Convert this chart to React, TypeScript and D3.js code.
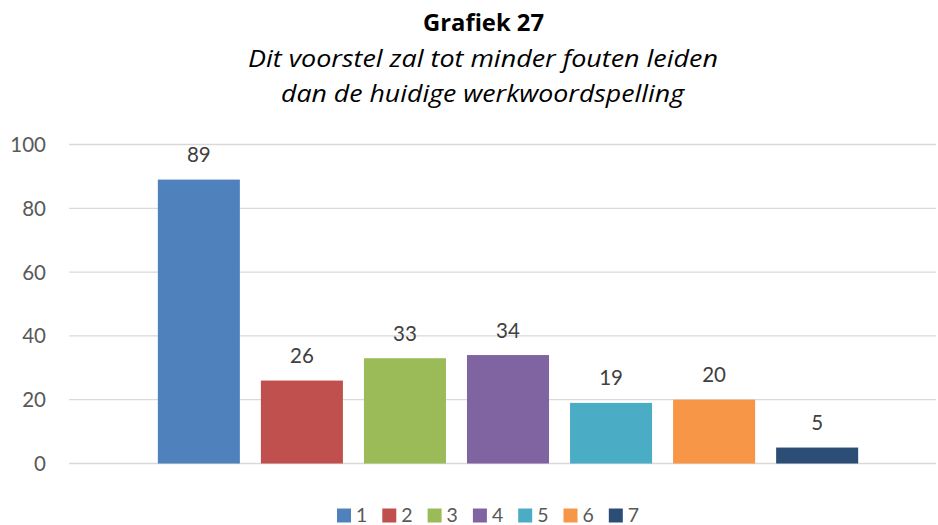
import React from "react";
import * as d3 from "d3";

const categories = ["Grafiek 27"];
const seriesNames = ["1", "2", "3", "4", "5", "6", "7"];
const seriesValues = [89, 26, 33, 34, 19, 20, 5];
const seriesColors = ["#4F81BD", "#C0504D", "#9BBB59", "#8064A2", "#4BACC6", "#F79646", "#2C4D75"];
const yTicks = [0, 20, 40, 60, 80, 100];
const titleText = "Grafiek 27";
const subtitleLines = ["Dit voorstel zal tot minder fouten leiden", "dan de huidige werkwoordspelling"];

const W = 938;
const H = 525;
const FONT = "Lato, 'Open Sans', sans-serif";
const TFONT = "'Open Sans', Lato, sans-serif";

export default function App() {
  const plotLeft = 69;
  const plotRight = 936;
  const y = d3.scaleLinear().domain([0, 100]).range([463.5, 144.5]);
  const outer = d3
    .scaleBand<string>()
    .domain(categories)
    .range([plotLeft, plotRight])
    .paddingInner(0)
    .paddingOuter(0.119)
    .align(0.533);
  const x0 = outer(categories[0]) ?? 0;
  const inner = d3
    .scaleBand<string>()
    .domain(seriesNames)
    .range([x0, x0 + outer.bandwidth()])
    .paddingInner(0.204)
    .paddingOuter(0);

  const legendStart = 337;
  const legendStep = 45.3;
  const subWidths = [470, 403];
  const subCenters = [483, 482.5];

  return (
    <svg
      width={W}
      height={H}
      style={{ position: "absolute", left: 0, top: 0, display: "block", background: "#fff" }}
      fontFamily={FONT}
    >
      <rect x={0} y={0} width={W} height={H} fill="#fff" />
      <text
        x={483.5}
        y={30.5}
        textAnchor="middle"
        fontWeight="bold"
        fontSize={24}
        fontFamily={TFONT}
        fill="#000"
        textLength={121}
        lengthAdjust="spacingAndGlyphs"
      >
        {titleText}
      </text>
      {subtitleLines.map((l, i) => (
        <text
          key={i}
          x={subCenters[i]}
          y={67 + i * 35.2}
          textAnchor="middle"
          fontStyle="italic"
          fontSize={24}
          fontFamily={TFONT}
          fill="#000"
          textLength={subWidths[i]}
          lengthAdjust="spacingAndGlyphs"
        >
          {l}
        </text>
      ))}
      {yTicks.map((t) => (
        <g key={t}>
          <line x1={plotLeft} x2={plotRight} y1={y(t)} y2={y(t)} stroke="#D9D9D9" strokeWidth={1.3} />
          <text x={46} y={y(t) + 7.5} textAnchor="end" fontSize={20.5} fill="#595959">
            {t}
          </text>
        </g>
      ))}
      {seriesNames.map((s, i) => {
        const bx = inner(s) ?? 0;
        const bw = inner.bandwidth();
        const v = seriesValues[i];
        return (
          <g key={s}>
            <rect x={bx} y={y(v)} width={bw} height={y(0) - y(v)} fill={seriesColors[i]} />
            <text x={bx + bw / 2} y={y(v) - 17.5} textAnchor="middle" fontSize={20.5} fill="#404040">
              {v}
            </text>
          </g>
        );
      })}
      {seriesNames.map((s, i) => {
        const lx = legendStart + i * legendStep;
        return (
          <g key={"l" + s}>
            <rect x={lx} y={508.5} width={14} height={14} fill={seriesColors[i]} />
            <text x={lx + 19} y={521.5} fontSize={19.5} fill="#595959">
              {s}
            </text>
          </g>
        );
      })}
    </svg>
  );
}
